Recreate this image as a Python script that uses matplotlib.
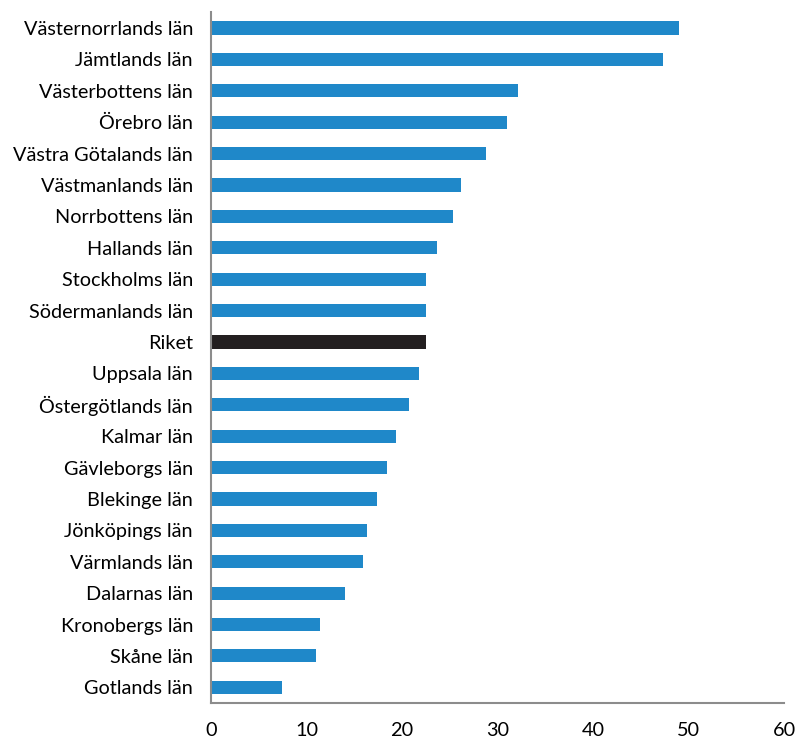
import matplotlib
matplotlib.use("Agg")
import matplotlib.pyplot as plt

# Data (top to bottom as in the chart)
lan = ["Västernorrlands län", "Jämtlands län", "Västerbottens län", "Örebro län",
       "Västra Götalands län", "Västmanlands län", "Norrbottens län", "Hallands län",
       "Stockholms län", "Södermanlands län", "Riket", "Uppsala län",
       "Östergötlands län", "Kalmar län", "Gävleborgs län", "Blekinge län",
       "Jönköpings län", "Värmlands län", "Dalarnas län", "Kronobergs län",
       "Skåne län", "Gotlands län"]
varden = [49.0, 47.3, 32.1, 31.0, 28.8, 26.2, 25.3, 23.7, 22.5, 22.5, 22.5, 21.8,
          20.7, 19.4, 18.4, 17.4, 16.3, 15.9, 14.0, 11.4, 11.0, 7.4]
xticks = [0, 10, 20, 30, 40, 50, 60]

plt.rcParams['font.family'] = ['Lato', 'DejaVu Sans']

fig = plt.figure(figsize=(7.97, 7.4), dpi=100)
ax = fig.add_axes([0.2647, 0.05, 0.719, 0.9334])

n = len(lan)
pos = list(range(n))[::-1]
farger = ["#231F20" if l == "Riket" else "#1F88C9" for l in lan]
ax.barh(pos, varden, height=0.42, color=farger)

ax.set_yticks(pos)
ax.set_yticklabels(lan, fontsize=14.3)
ax.set_ylim(-0.5, n - 0.5)
ax.set_xlim(0, 60)
ax.set_xticks(xticks)
ax.set_xticklabels([str(t) for t in xticks], fontsize=14.3)
ax.tick_params(axis='both', length=0)
ax.tick_params(axis='y', pad=13)
ax.tick_params(axis='x', pad=14)

for s in ['top', 'right']:
    ax.spines[s].set_visible(False)
for s in ['left', 'bottom']:
    ax.spines[s].set_color('#8C8C8C')
    ax.spines[s].set_linewidth(1.5)

fig.savefig("out.png", dpi=100)
